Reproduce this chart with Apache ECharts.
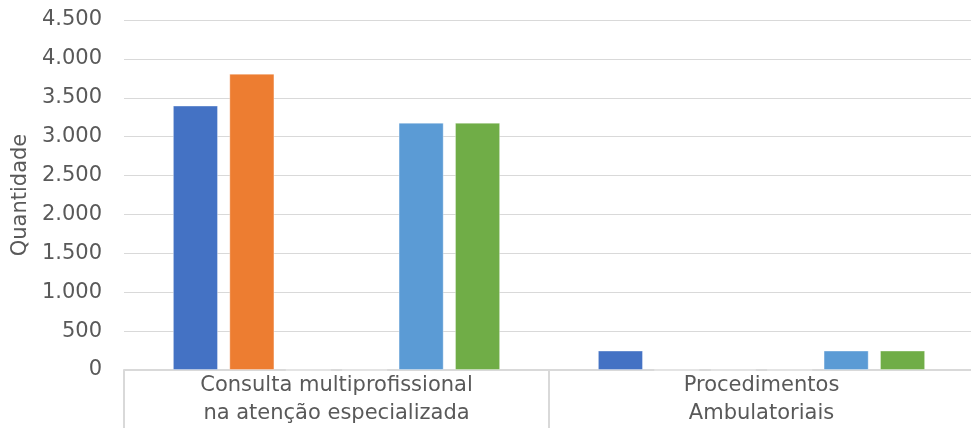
<!DOCTYPE html>
<html>
<head>
<meta charset="utf-8">
<script src="https://cdn.jsdelivr.net/npm/echarts@6/dist/echarts.min.js"></script>
<style>html,body{margin:0;padding:0;background:#fff;}#c{width:971px;height:428px;}</style>
</head>
<body>
<div id="c"></div>
<script>
var categories = ['Consulta multiprofissional\nna atenção especializada', 'Procedimentos\nAmbulatoriais'];
var seriesNames = ['Série 1', 'Série 2', 'Série 3', 'Série 4', 'Série 5', 'Série 6'];
var s1 = [3400, 250];
var s2 = [3810, 0];
var s3 = [0, 0];
var s4 = [0, 0];
var s5 = [3180, 250];
var s6 = [3180, 250];
var colors = ['#4472C4', '#ED7D31', '#A5A5A5', '#FFC000', '#5B9BD5', '#70AD47'];
var values = [s1, s2, s3, s4, s5, s6];

var font = '"DejaVu Sans", sans-serif';
var chart = echarts.init(document.getElementById('c'));
chart.setOption({
  animation: false,
  color: colors,
  grid: {left: 124, top: 20, width: 850, height: 350, containLabel: false, outerBoundsMode: 'none'},
  xAxis: {
    type: 'category',
    data: categories,
    axisLine: {show: true, lineStyle: {color: '#d9d9d9', width: 2}},
    axisTick: {show: true, length: 60, interval: 0, lineStyle: {color: '#d9d9d9', width: 2}},
    axisLabel: {color: '#595959', fontSize: 21, fontFamily: font, lineHeight: 28, margin: 2, interval: 0}
  },
  yAxis: {
    type: 'value',
    min: 0, max: 4500, interval: 500,
    name: 'Quantidade',
    nameLocation: 'middle',
    nameGap: 90,
    nameTextStyle: {color: '#595959', fontSize: 21, fontFamily: font},
    axisLine: {show: false},
    axisTick: {show: false},
    splitLine: {lineStyle: {color: '#d9d9d9', width: 1}},
    axisLabel: {
      color: '#595959', fontSize: 21, fontFamily: font, margin: 22,
      formatter: function (v) { return v.toString().replace(/\B(?=(\d{3})+(?!\d))/g, '.'); }
    }
  },
  series: values.map(function (d, i) {
    return {
      name: seriesNames[i],
      type: 'bar',
      data: d,
      barGap: '25%',
      barCategoryGap: '23%',
      itemStyle: {color: colors[i], borderColor: 'rgba(255,255,255,0.35)', borderWidth: 1}
    };
  })
});
</script>
</body>
</html>
